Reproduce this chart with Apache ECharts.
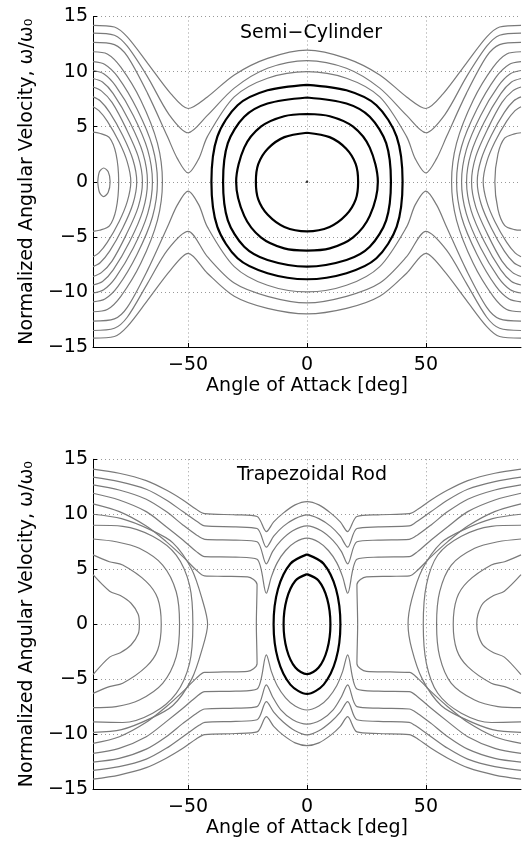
<!DOCTYPE html>
<html><head><meta charset="utf-8">
<script src="https://cdn.jsdelivr.net/npm/echarts@6/dist/echarts.min.js"></script>
<style>html,body{margin:0;padding:0;background:#fff}#c{width:523px;height:842px}</style>
</head><body><div id="c"></div>
<script>
// ---------- text ----------
const semiTitle = 'Semi\u2212Cylinder';
const trapTitle = 'Trapezoidal Rod';
const xAxisName = 'Angle of Attack [deg]';
const yAxisName = 'Normalized Angular Velocity, \u03c9/\u03c9\u2080';
const xTickValues = [-50, 0, 50];

// ---------- Semi-Cylinder ----------
const semiBlackOrbits = [
 [[0,4.45],[9.5,4.05],[16.5,3.0],[20.5,1.6],[21.5,0],[20.5,-1.6],[16.5,-3.0],[9.5,-4.1],[0,-4.5],[-9.5,-4.1],[-16.5,-3.0],[-20.5,-1.6],[-21.5,0],[-20.5,1.6],[-16.5,3.0],[-9.5,4.05],[0,4.45]],
 [[0,6.15],[9.6,5.95],[19.4,5.0],[26.4,3.1],[29.8,0],[26.4,-3.1],[19.4,-5.05],[9.6,-6.05],[0,-6.25],[-9.6,-6.05],[-19.4,-5.05],[-26.4,-3.1],[-29.8,0],[-26.4,3.1],[-19.4,5.0],[-9.6,5.95],[0,6.15]],
 [[0,7.65],[16.6,7.1],[26.4,5.9],[33.3,3.5],[35.3,0],[33.3,-3.5],[26.4,-5.9],[16.6,-7.1],[0,-7.7],[-16.6,-7.1],[-26.4,-5.9],[-33.3,-3.5],[-35.3,0],[-33.3,3.5],[-26.4,5.9],[-16.6,7.1],[0,7.65]],
 [[0,8.8],[16.6,8.3],[29.2,6.95],[37.7,4.1],[40.2,0],[37.7,-4.1],[29.2,-6.95],[16.6,-8.3],[0,-8.85],[-16.6,-8.3],[-29.2,-6.95],[-37.7,-4.1],[-40.2,0],[-37.7,4.1],[-29.2,6.95],[-16.6,8.3],[0,8.8]]
];
const semiCenterPoint = [[0,0]];
const semiUpperRotating = [
 [[-90,14.2],[-81,14.05],[-75.6,13.15],[-67,10.75],[-57.3,8.0],[-50,6.65],[-41.9,7.7],[-30.6,9.7],[-16.6,11.2],[0,11.95],[16.6,11.2],[30.6,9.7],[41.9,7.7],[50,6.65],[57.3,8.0],[67,10.75],[75.6,13.15],[81,14.05],[90,14.2]],
 [[-90,13.5],[-81,13.3],[-75.6,12.3],[-67,9.5],[-58,6.1],[-50,4.45],[-42,6.0],[-30.6,8.5],[-16.6,10.3],[0,11.0],[16.6,10.3],[30.6,8.5],[42,6.0],[50,4.45],[58,6.1],[67,9.5],[75.6,12.3],[81,13.3],[90,13.5]],
 [[-90,12.65],[-81,12.45],[-75.6,11.4],[-67,8.0],[-58.7,4.1],[-54.5,2.1],[-50,0.8],[-45.5,2.1],[-41.9,4.1],[-30.6,7.7],[-16.6,9.4],[0,10.0],[16.6,9.4],[30.6,7.7],[41.9,4.1],[45.5,2.1],[50,0.8],[54.5,2.1],[58.7,4.1],[67,8.0],[75.6,11.4],[81,12.45],[90,12.65]]
];
const semiLowerRotating = [
 [[-90,-14.2],[-81,-14.05],[-75.6,-13.15],[-67,-10.75],[-57.3,-8.0],[-50,-6.5],[-41.9,-8.3],[-30.6,-10.4],[-16.6,-11.5],[0,-12.0],[16.6,-11.5],[30.6,-10.4],[41.9,-8.3],[50,-6.5],[57.3,-8.0],[67,-10.75],[75.6,-13.15],[81,-14.05],[90,-14.2]],
 [[-90,-13.5],[-81,-13.3],[-75.6,-12.3],[-67,-9.2],[-58.7,-6.2],[-50,-4.5],[-41.9,-6.8],[-30.6,-9.2],[-16.6,-10.4],[0,-11.0],[16.6,-10.4],[30.6,-9.2],[41.9,-6.8],[50,-4.5],[58.7,-6.2],[67,-9.2],[75.6,-12.3],[81,-13.3],[90,-13.5]],
 [[-90,-12.65],[-81,-12.45],[-75.6,-11.4],[-67,-8.0],[-58.7,-4.1],[-54.5,-2.1],[-50,-0.85],[-45.5,-2.1],[-41.9,-4.1],[-30.6,-7.7],[-16.6,-9.4],[0,-10.0],[16.6,-9.4],[30.6,-7.7],[41.9,-4.1],[45.5,-2.1],[50,-0.85],[54.5,-2.1],[58.7,-4.1],[67,-8.0],[75.6,-11.4],[81,-12.45],[90,-12.65]]
];
const semiLeftOrbits = [
 [[-90,11.8],[-84,11.6],[-78.3,10.4],[-69.9,7.4],[-62.9,3.5],[-60.8,0],[-62.9,-3.5],[-69.9,-7.4],[-78.3,-10.4],[-84,-11.6],[-90,-11.8]],
 [[-90,10.9],[-85,10.65],[-79.5,9.5],[-71.5,6.6],[-65,3.2],[-62.9,0],[-65,-3.2],[-71.5,-6.6],[-79.5,-9.5],[-85,-10.65],[-90,-10.9]],
 [[-90,10.1],[-85.5,9.8],[-80.5,8.7],[-73,6.0],[-67,2.9],[-65,0],[-67,-2.9],[-73,-6.0],[-80.5,-8.7],[-85.5,-9.8],[-90,-10.1]],
 [[-90,9.37],[-86,9.05],[-81.5,8.0],[-74.5,5.4],[-69,2.6],[-67.1,0],[-69,-2.6],[-74.5,-5.4],[-81.5,-8.0],[-86,-9.05],[-90,-9.37]],
 [[-90,8.6],[-86.5,8.25],[-82,7.2],[-76,4.8],[-71,2.3],[-69.2,0],[-71,-2.3],[-76,-4.8],[-82,-7.2],[-86.5,-8.25],[-90,-8.6]],
 [[-90,7.7],[-87,7.35],[-83,6.3],[-77.5,4.2],[-73.2,2.0],[-71.6,0],[-73.2,-2.0],[-77.5,-4.2],[-83,-6.3],[-87,-7.35],[-90,-7.7]],
 [[-90,6.8],[-87.5,6.45],[-84,5.5],[-79,3.6],[-75.6,1.8],[-74.1,0],[-75.6,-1.8],[-79,-3.6],[-84,-5.5],[-87.5,-6.45],[-90,-6.8]],
 [[-90,4.5],[-87.3,4.4],[-83.1,4.0],[-80.3,2.5],[-79.2,0],[-80.3,-2.5],[-83.1,-4.0],[-87.3,-4.4],[-90,-4.5]]
];
const semiRightOrbits = [
 [[90,11.8],[84,11.6],[78.3,10.4],[69.9,7.4],[62.9,3.5],[60.8,0],[62.9,-3.5],[69.9,-7.4],[78.3,-10.4],[84,-11.6],[90,-11.8]],
 [[90,10.9],[85,10.65],[79.5,9.5],[71.5,6.6],[65,3.2],[62.9,0],[65,-3.2],[71.5,-6.6],[79.5,-9.5],[85,-10.65],[90,-10.9]],
 [[90,10.1],[85.5,9.8],[80.5,8.7],[73,6.0],[67,2.9],[65,0],[67,-2.9],[73,-6.0],[80.5,-8.7],[85.5,-9.8],[90,-10.1]],
 [[90,9.37],[86,9.05],[81.5,8.0],[74.5,5.4],[69,2.6],[67.1,0],[69,-2.6],[74.5,-5.4],[81.5,-8.0],[86,-9.05],[90,-9.37]],
 [[90,8.6],[86.5,8.25],[82,7.2],[76,4.8],[71,2.3],[69.2,0],[71,-2.3],[76,-4.8],[82,-7.2],[86.5,-8.25],[90,-8.6]],
 [[90,7.7],[87,7.35],[83,6.3],[77.5,4.2],[73.2,2.0],[71.6,0],[73.2,-2.0],[77.5,-4.2],[83,-6.3],[87,-7.35],[90,-7.7]],
 [[90,6.8],[87.5,6.45],[84,5.5],[79,3.6],[75.6,1.8],[74.1,0],[75.6,-1.8],[79,-3.6],[84,-5.5],[87.5,-6.45],[90,-6.8]],
 [[90,4.45],[87.3,4.35],[83.1,3.95],[80.3,2.5],[79,0],[80.3,-2.5],[83.1,-3.95],[87.3,-4.35],[90,-4.4]]
];
const semiSmallOval = [[-88,0],[-87.3,0.9],[-85.5,1.25],[-83.6,0.9],[-82.8,0],[-83.6,-0.95],[-85.5,-1.35],[-87.3,-0.95],[-88,0]];

// ---------- Trapezoidal Rod ----------
const trapBlackOrbits = [
 [[0,4.55],[4.9,3.95],[8.5,2.3],[9.85,0],[8.5,-2.3],[4.9,-3.95],[0,-4.55],[-4.9,-3.95],[-8.5,-2.3],[-9.85,0],[-8.5,2.3],[-4.9,3.95],[0,4.55]],
 [[0,6.35],[7,5.5],[12.2,3.2],[14.05,0],[12.2,-3.2],[7,-5.5],[0,-6.35],[-7,-5.5],[-12.2,-3.2],[-14.05,0],[-12.2,3.2],[-7,5.5],[0,6.35]]
];
const trapUpperRotating = [
 [[-90,14.1],[-79,13.73],[-67.6,13.06],[-59.2,12.2],[-52.2,11.3],[-46.6,10.45],[-43,10.05],[-30,9.95],[-21,9.8],[-17.1,8.42],[-14,9.3],[-10,10.1],[-5,10.85],[0,11.15],[5,10.85],[10,10.1],[14,9.3],[17.1,8.42],[21,9.8],[30,9.95],[43,10.05],[46.6,10.45],[52.2,11.3],[59.2,12.2],[67.6,13.06],[79,13.73],[90,14.1]],
 [[-90,13.37],[-79,12.97],[-67.6,12.28],[-59.2,11.3],[-52.2,10.24],[-45.2,9.18],[-43,8.94],[-30,8.85],[-21,8.7],[-17.1,7.0],[-14,8.0],[-10,8.9],[-5,9.6],[0,9.94],[5,9.6],[10,8.9],[14,8.0],[17.1,7.0],[21,8.7],[30,8.85],[43,8.94],[45.2,9.18],[52.2,10.24],[59.2,11.3],[67.6,12.28],[79,12.97],[90,13.37]],
 [[-90,12.67],[-79,12.21],[-67.6,11.37],[-59.2,10.24],[-52.2,9.03],[-46.5,8.12],[-43,7.72],[-30,7.65],[-21,7.5],[-17.1,5.48],[-14.5,6.6],[-11,7.6],[-6,8.5],[0,8.94],[6,8.5],[11,7.6],[14.5,6.6],[17.1,5.48],[21,7.5],[30,7.65],[43,7.72],[46.5,8.12],[52.2,9.03],[59.2,10.24],[67.6,11.37],[79,12.21],[90,12.67]],
 [[-90,11.91],[-79,11.3],[-67.6,10.24],[-59.2,8.87],[-52.2,7.66],[-46.5,6.6],[-43,6.14],[-30,6.1],[-21,5.9],[-17.1,2.81],[-15,4.3],[-12.5,5.6],[-9,6.7],[-5,7.45],[0,7.82],[5,7.45],[9,6.7],[12.5,5.6],[15,4.3],[17.1,2.81],[21,5.9],[30,6.1],[43,6.14],[46.5,6.6],[52.2,7.66],[59.2,8.87],[67.6,10.24],[79,11.3],[90,11.91]]
];
const trapLowerRotating = [
 [[-90,-14.1],[-79,-13.73],[-67.6,-13.06],[-59.2,-12.2],[-52.2,-11.3],[-46.6,-10.45],[-43,-10.05],[-30,-9.95],[-21,-9.8],[-17.1,-8.42],[-14,-9.3],[-10,-10.1],[-5,-10.8],[0,-11.05],[5,-10.8],[10,-10.1],[14,-9.3],[17.1,-8.42],[21,-9.8],[30,-9.95],[43,-10.05],[46.6,-10.45],[52.2,-11.3],[59.2,-12.2],[67.6,-13.06],[79,-13.73],[90,-14.1]],
 [[-90,-13.3],[-79,-12.97],[-67.6,-12.28],[-59.2,-11.3],[-52.2,-10.24],[-45.2,-9.18],[-43,-8.94],[-30,-8.85],[-21,-8.7],[-17.1,-7.05],[-14,-8.0],[-10,-8.9],[-5,-9.7],[0,-10.08],[5,-9.7],[10,-8.9],[14,-8.0],[17.1,-7.05],[21,-8.7],[30,-8.85],[43,-8.94],[45.2,-9.18],[52.2,-10.24],[59.2,-11.3],[67.6,-12.28],[79,-12.97],[90,-13.3]],
 [[-90,-12.55],[-79,-12.21],[-67.6,-11.37],[-59.2,-10.24],[-52.2,-9.03],[-46.5,-8.12],[-43,-7.72],[-30,-7.65],[-21,-7.5],[-17.1,-5.53],[-14.5,-6.6],[-11,-7.8],[-6,-8.7],[0,-9.1],[6,-8.7],[11,-7.8],[14.5,-6.6],[17.1,-5.53],[21,-7.5],[30,-7.65],[43,-7.72],[46.5,-8.12],[52.2,-9.03],[59.2,-10.24],[67.6,-11.37],[79,-12.21],[90,-12.55]],
 [[-90,-11.75],[-79,-11.3],[-67.6,-10.24],[-59.2,-8.87],[-52.2,-7.66],[-46.5,-6.6],[-43,-6.14],[-30,-6.1],[-21,-5.9],[-17.1,-2.8],[-15,-4.3],[-12.5,-5.6],[-9,-6.7],[-5,-7.45],[0,-7.81],[5,-7.45],[9,-6.7],[12.5,-5.6],[15,-4.3],[17.1,-2.8],[21,-5.9],[30,-6.1],[43,-6.14],[46.5,-6.6],[52.2,-7.66],[59.2,-8.87],[67.6,-10.24],[79,-11.3],[90,-11.75]]
];
const trapLeftOrbits = [
 [[-90,10.95],[-78.9,10.24],[-67.6,8.93],[-59.2,7.51],[-52.2,6.14],[-46.6,4.93],[-43.1,4.39],[-35,4.35],[-25,4.3],[-21,3.6],[-21.3,0],[-21,-3.6],[-25,-4.3],[-35,-4.35],[-43.1,-4.39],[-46.6,-4.93],[-52.2,-6.14],[-59.2,-7.51],[-67.6,-8.93],[-78.9,-10.24],[-90,-10.85]],
 [[-90,10.0],[-78,9.6],[-66,8.6],[-56.4,7.4],[-48.5,5.0],[-44,2.2],[-41.8,0],[-44,-2.2],[-48.5,-5.0],[-56.4,-7.4],[-66,-8.6],[-78,-9.6],[-90,-9.85]],
 [[-90,9.0],[-77.5,8.9],[-64.9,8.0],[-55,6.29],[-49.4,3.56],[-48,0],[-49.4,-3.56],[-55,-6.29],[-64.9,-8.1],[-77.5,-8.95],[-90,-8.9]],
 [[-90,7.75],[-80.3,7.5],[-70.5,6.9],[-60.7,5.38],[-55,2.95],[-53.6,0],[-55,-2.95],[-60.7,-5.38],[-70.5,-6.9],[-80.3,-7.5],[-90,-7.6]],
 [[-90,6.3],[-83.1,5.68],[-77.5,5.38],[-67.6,3.87],[-62.8,2.35],[-61.3,0],[-62.8,-2.35],[-67.6,-3.87],[-77.5,-5.38],[-83.1,-5.68],[-90,-6.3]],
 [[-90,4.5],[-83,3.0],[-78.5,2.6],[-74,1.9],[-71,0.9],[-70.5,0],[-71,-0.9],[-74,-1.9],[-78.5,-2.6],[-83,-3.0],[-90,-4.6]]
];
const trapRightOrbits = [
 [[90,10.95],[78.9,10.24],[67.6,8.93],[59.2,7.51],[52.2,6.14],[46.6,4.93],[43.1,4.39],[35,4.35],[25,4.3],[21,3.6],[21.3,0],[21,-3.6],[25,-4.3],[35,-4.35],[43.1,-4.39],[46.6,-4.93],[52.2,-6.14],[59.2,-7.51],[67.6,-8.93],[78.9,-10.24],[90,-10.85]],
 [[90,10.0],[78,9.6],[66,8.6],[56.4,7.4],[48.5,5.0],[44,2.2],[42.5,0],[44,-2.2],[48.5,-5.0],[56.4,-7.4],[66,-8.6],[78,-9.6],[90,-9.85]],
 [[90,9.0],[77.5,8.9],[64.9,8.0],[55,6.29],[50.2,3.56],[48.9,0],[50.2,-3.56],[55,-6.29],[64.9,-8.1],[77.5,-8.95],[90,-8.9]],
 [[90,7.75],[80.3,7.5],[70.5,6.9],[60.7,5.38],[55.8,2.95],[54.5,0],[55.8,-2.95],[60.7,-5.38],[70.5,-6.9],[80.3,-7.5],[90,-7.6]],
 [[90,6.3],[83.1,5.68],[77.5,5.38],[67.6,3.87],[63,2.35],[61.5,0],[63,-2.35],[67.6,-3.87],[77.5,-5.38],[83.1,-5.68],[90,-6.3]],
 [[90,4.5],[83,3.0],[78.5,2.6],[74,1.9],[71.9,0.9],[71.4,0],[71.9,-0.9],[74,-1.9],[78.5,-2.6],[83,-3.0],[90,-4.6]]
];

// ---------- chart ----------
const FONT = 'DejaVu Sans';
const GRAY = '#7a7a7a';
function lines(list, idx, color, width) {
  return list.map(d => ({
    type: 'line', xAxisIndex: idx, yAxisIndex: idx, data: d,
    showSymbol: false, smooth: 0.3, silent: true, animation: false,
    lineStyle: { color: color, width: width }, z: 3
  }));
}
function xAxisCfg(gi) {
  return {
    type: 'value', gridIndex: gi, min: -90, max: 90,
    name: xAxisName, nameLocation: 'middle', nameGap: 30,
    nameTextStyle: { fontFamily: FONT, fontSize: 19, color: '#000' },
    axisLine: { show: true, onZero: false, lineStyle: { color: '#000', width: 1 } },
    axisTick: { show: true, inside: true, length: 4, customValues: xTickValues, lineStyle: { color: '#000' } },
    axisLabel: { show: true, customValues: xTickValues, margin: 9, fontFamily: FONT, fontSize: 19, color: '#000',
      formatter: v => String(v).replace('-', '\u2212') },
    splitLine: { show: true, lineStyle: { color: '#999', type: [1, 3], width: 1 } }
  };
}
function yAxisCfg(gi) {
  return {
    type: 'value', gridIndex: gi, min: -15, max: 15, interval: 5,
    name: yAxisName, nameLocation: 'middle', nameGap: 52, nameRotate: 90,
    nameTextStyle: { fontFamily: FONT, fontSize: 19, color: '#000' },
    axisLine: { show: true, onZero: false, lineStyle: { color: '#000', width: 1 } },
    axisTick: { show: true, inside: true, length: 4, lineStyle: { color: '#000' } },
    axisLabel: { show: true, margin: 5, fontFamily: FONT, fontSize: 19, color: '#000',
      formatter: v => String(v).replace('-', '\u2212') },
    splitLine: { show: true, lineStyle: { color: '#999', type: [1, 3], width: 1 } }
  };
}
const series = [].concat(
  lines(semiUpperRotating, 0, GRAY, 1.2),
  lines(semiLowerRotating, 0, GRAY, 1.2),
  lines(semiLeftOrbits, 0, GRAY, 1.2),
  lines(semiRightOrbits, 0, GRAY, 1.2),
  lines([semiSmallOval], 0, GRAY, 1.2),
  lines(semiBlackOrbits, 0, '#000', 2.2),
  [{ type: 'scatter', xAxisIndex: 0, yAxisIndex: 0, data: semiCenterPoint, symbolSize: 2.5,
     itemStyle: { color: '#000' }, silent: true, z: 4 }],
  lines(trapUpperRotating, 1, GRAY, 1.2),
  lines(trapLowerRotating, 1, GRAY, 1.2),
  lines(trapLeftOrbits, 1, GRAY, 1.2),
  lines(trapRightOrbits, 1, GRAY, 1.2),
  lines(trapBlackOrbits, 1, '#000', 2.2)
);
const chart = echarts.init(document.getElementById('c'), null, { renderer: 'canvas' });
chart.setOption({
  backgroundColor: '#fff',
  animation: false,
  grid: [
    { left: 93, top: 16.5, width: 428, height: 330.5 },
    { left: 93, top: 459.3, width: 428, height: 329.7 }
  ],
  xAxis: [xAxisCfg(0), xAxisCfg(1)],
  yAxis: [yAxisCfg(0), yAxisCfg(1)],
  graphic: [
    { type: 'text', x: 311, y: 33, style: { text: semiTitle, font: '19px "DejaVu Sans"', fill: '#000', align: 'center', verticalAlign: 'middle' }, z: 10 },
    { type: 'text', x: 312, y: 475, style: { text: trapTitle, font: '19px "DejaVu Sans"', fill: '#000', align: 'center', verticalAlign: 'middle' }, z: 10 }
  ],
  series: series
});
</script></body></html>
